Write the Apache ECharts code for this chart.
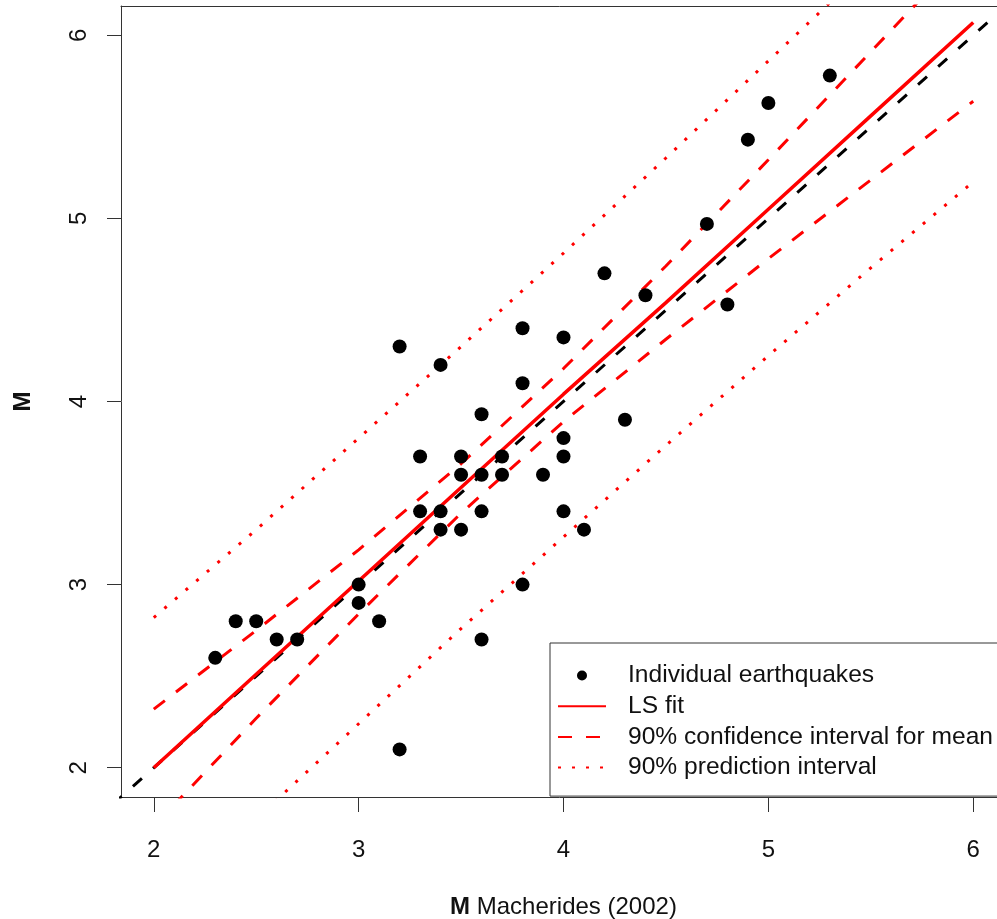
<!DOCTYPE html>
<html>
<head>
<meta charset="utf-8">
<script src="https://cdn.jsdelivr.net/npm/echarts@6/dist/echarts.min.js"></script>
<style>
    html, body {
        margin: 0;
        padding: 0;
        background: #fff;
    }
    #main {
        width: 997px;
        height: 919px;
    }
</style>
</head>
<body>
<div id="main"></div>
<script>
// earthquakes: magnitude from Macherides (2002) vs M
const quakeX = [2.3, 2.4, 2.5, 2.6, 2.7, 3.0, 3.0, 3.1, 3.2, 3.2, 3.3, 3.3, 3.4, 3.4, 3.4,
    3.5, 3.5, 3.5, 3.6, 3.6, 3.6, 3.6, 3.7, 3.7, 3.8, 3.8, 3.8, 3.9, 4.0, 4.0, 4.0, 4.0,
    4.1, 4.2, 4.3, 4.4, 4.7, 4.8, 4.9, 5.0, 5.3];
const quakeY = [2.6, 2.8, 2.8, 2.7, 2.7, 3.0, 2.9, 2.8, 2.1, 4.3, 3.7, 3.4, 4.2, 3.4, 3.3,
    3.7, 3.6, 3.3, 3.93, 3.6, 3.4, 2.7, 3.7, 3.6, 4.4, 4.1, 3.0, 3.6, 4.35, 3.8, 3.7, 3.4,
    3.3, 4.7, 3.9, 4.58, 4.97, 4.53, 5.43, 5.63, 5.78];

// fitted line and bands, read at these x positions
const bandX = [2, 2.5, 3, 3.5, 4, 4.5, 5, 5.5, 6];
const fitY = [2.0, 2.51, 3.02, 3.53, 4.04, 4.54, 5.05, 5.56, 6.07];
const ciUpper = [2.32, 2.75, 3.19, 3.66, 4.18, 4.74, 5.32, 5.91, 6.50];
const ciLower = [1.68, 2.27, 2.84, 3.39, 3.89, 4.34, 4.78, 5.21, 5.64];
const piUpper = [2.82, 3.30, 3.80, 4.30, 4.81, 5.33, 5.86, 6.39, 6.94];
const piLower = [1.18, 1.72, 2.24, 2.76, 3.26, 3.76, 4.25, 4.73, 5.20];

// 1:1 reference line
const oneToOne = [1.8, 6.2];

const xTicks = [2, 3, 4, 5, 6];
const yTicks = [2, 3, 4, 5, 6];

const font = "'Liberation Sans', Arial, sans-serif";
const frame = { color: "#333", width: 1 };

function pairs(xs, ys) {
    return xs.map((x, i) => [x, ys[i]]);
}

let chart = echarts.init(document.getElementById("main"));
chart.setOption({
    backgroundColor: "#fff",
    animation: false,
    textStyle: {
        fontFamily: font,
    },
    grid: {
        left: 121,
        top: 6,
        right: -9,
        bottom: 122,
        outerBoundsMode: "none",
        containLabel: false,
        show: false,
    },
    legend: {
        orient: "vertical",
        left: 550,
        top: 643,
        selectedMode: false,
        borderColor: "#333",
        borderWidth: 1,
        borderRadius: 0,
        padding: [20, 20, 16, 7],
        itemWidth: 48,
        itemHeight: 10,
        itemGap: 5.7,
        textStyle: {
            fontFamily: font,
            fontSize: 24.6,
            lineHeight: 24,
            color: "#111",
            padding: [0, 0, 0, 17],
        },
        data: [
            { name: "Individual earthquakes", itemStyle: { color: "#000", opacity: 1 } },
            { name: "LS fit", itemStyle: { opacity: 0 } },
            { name: "90% confidence interval for mean", itemStyle: { opacity: 0 } },
            { name: "90% prediction interval", itemStyle: { opacity: 0 } },
        ],
    },
    xAxis: [
        {
            type: "value",
            min: 1.84,
            max: 6.16,
            splitLine: { show: false },
            axisLine: { show: true, lineStyle: frame },
            axisTick: {
                show: true,
                length: 15,
                customValues: xTicks,
                lineStyle: frame,
            },
            axisLabel: {
                customValues: xTicks,
                margin: 41,
                fontSize: 24,
                color: "#111",
                fontFamily: font,
            },
            name: "{b|M} Macherides (2002)",
            nameLocation: "middle",
            nameGap: 98,
            nameTextStyle: {
                fontSize: 24,
                color: "#111",
                fontFamily: font,
                rich: {
                    b: {
                        fontWeight: "bold",
                        fontSize: 24,
                        color: "#111",
                        fontFamily: font,
                    },
                },
            },
        },
        {
            // top side of the box
            type: "value",
            position: "top",
            min: 1.84,
            max: 6.16,
            splitLine: { show: false },
            axisLine: { show: true, onZero: false, lineStyle: frame },
            axisTick: { show: false },
            axisLabel: { show: false },
        },
    ],
    yAxis: {
        type: "value",
        min: 1.84,
        max: 6.16,
        splitLine: { show: false },
        axisLine: { show: true, onZero: false, lineStyle: frame },
        axisTick: {
            show: true,
            length: 14,
            customValues: yTicks,
            lineStyle: frame,
        },
        axisLabel: {
            customValues: yTicks,
            rotate: 90,
            margin: 30,
            fontSize: 24,
            color: "#111",
            fontFamily: font,
        },
        name: "M",
        nameLocation: "middle",
        nameGap: 86,
        nameTextStyle: {
            fontSize: 24,
            fontWeight: "bold",
            color: "#111",
            fontFamily: font,
        },
    },
    series: [
        {
            name: "1:1",
            type: "line",
            data: pairs(oneToOne, oneToOne),
            symbol: "none",
            lineStyle: { color: "#000", width: 3, type: [12, 15] },
            z: 2,
        },
        {
            name: "90% prediction interval",
            type: "line",
            data: pairs(bandX, piUpper),
            symbol: "none",
            itemStyle: { color: "red" },
            lineStyle: { color: "red", width: 3, type: [3, 11] },
            z: 3,
        },
        {
            name: "90% prediction interval",
            type: "line",
            data: pairs(bandX, piLower),
            symbol: "none",
            itemStyle: { color: "red" },
            lineStyle: { color: "red", width: 3, type: [3, 11] },
            z: 3,
        },
        {
            name: "90% confidence interval for mean",
            type: "line",
            data: pairs(bandX, ciUpper),
            symbol: "none",
            itemStyle: { color: "red" },
            lineStyle: { color: "red", width: 3, type: [14, 14] },
            z: 3,
        },
        {
            name: "90% confidence interval for mean",
            type: "line",
            data: pairs(bandX, ciLower),
            symbol: "none",
            itemStyle: { color: "red" },
            lineStyle: { color: "red", width: 3, type: [14, 14] },
            z: 3,
        },
        {
            name: "LS fit",
            type: "line",
            data: pairs(bandX, fitY),
            symbol: "none",
            itemStyle: { color: "red" },
            lineStyle: { color: "red", width: 3.5 },
            z: 4,
        },
        {
            name: "Individual earthquakes",
            type: "scatter",
            data: pairs(quakeX, quakeY),
            symbol: "circle",
            symbolSize: 14,
            itemStyle: { color: "#000", opacity: 1 },
            z: 5,
        },
    ],
});
</script>
</body>
</html>
